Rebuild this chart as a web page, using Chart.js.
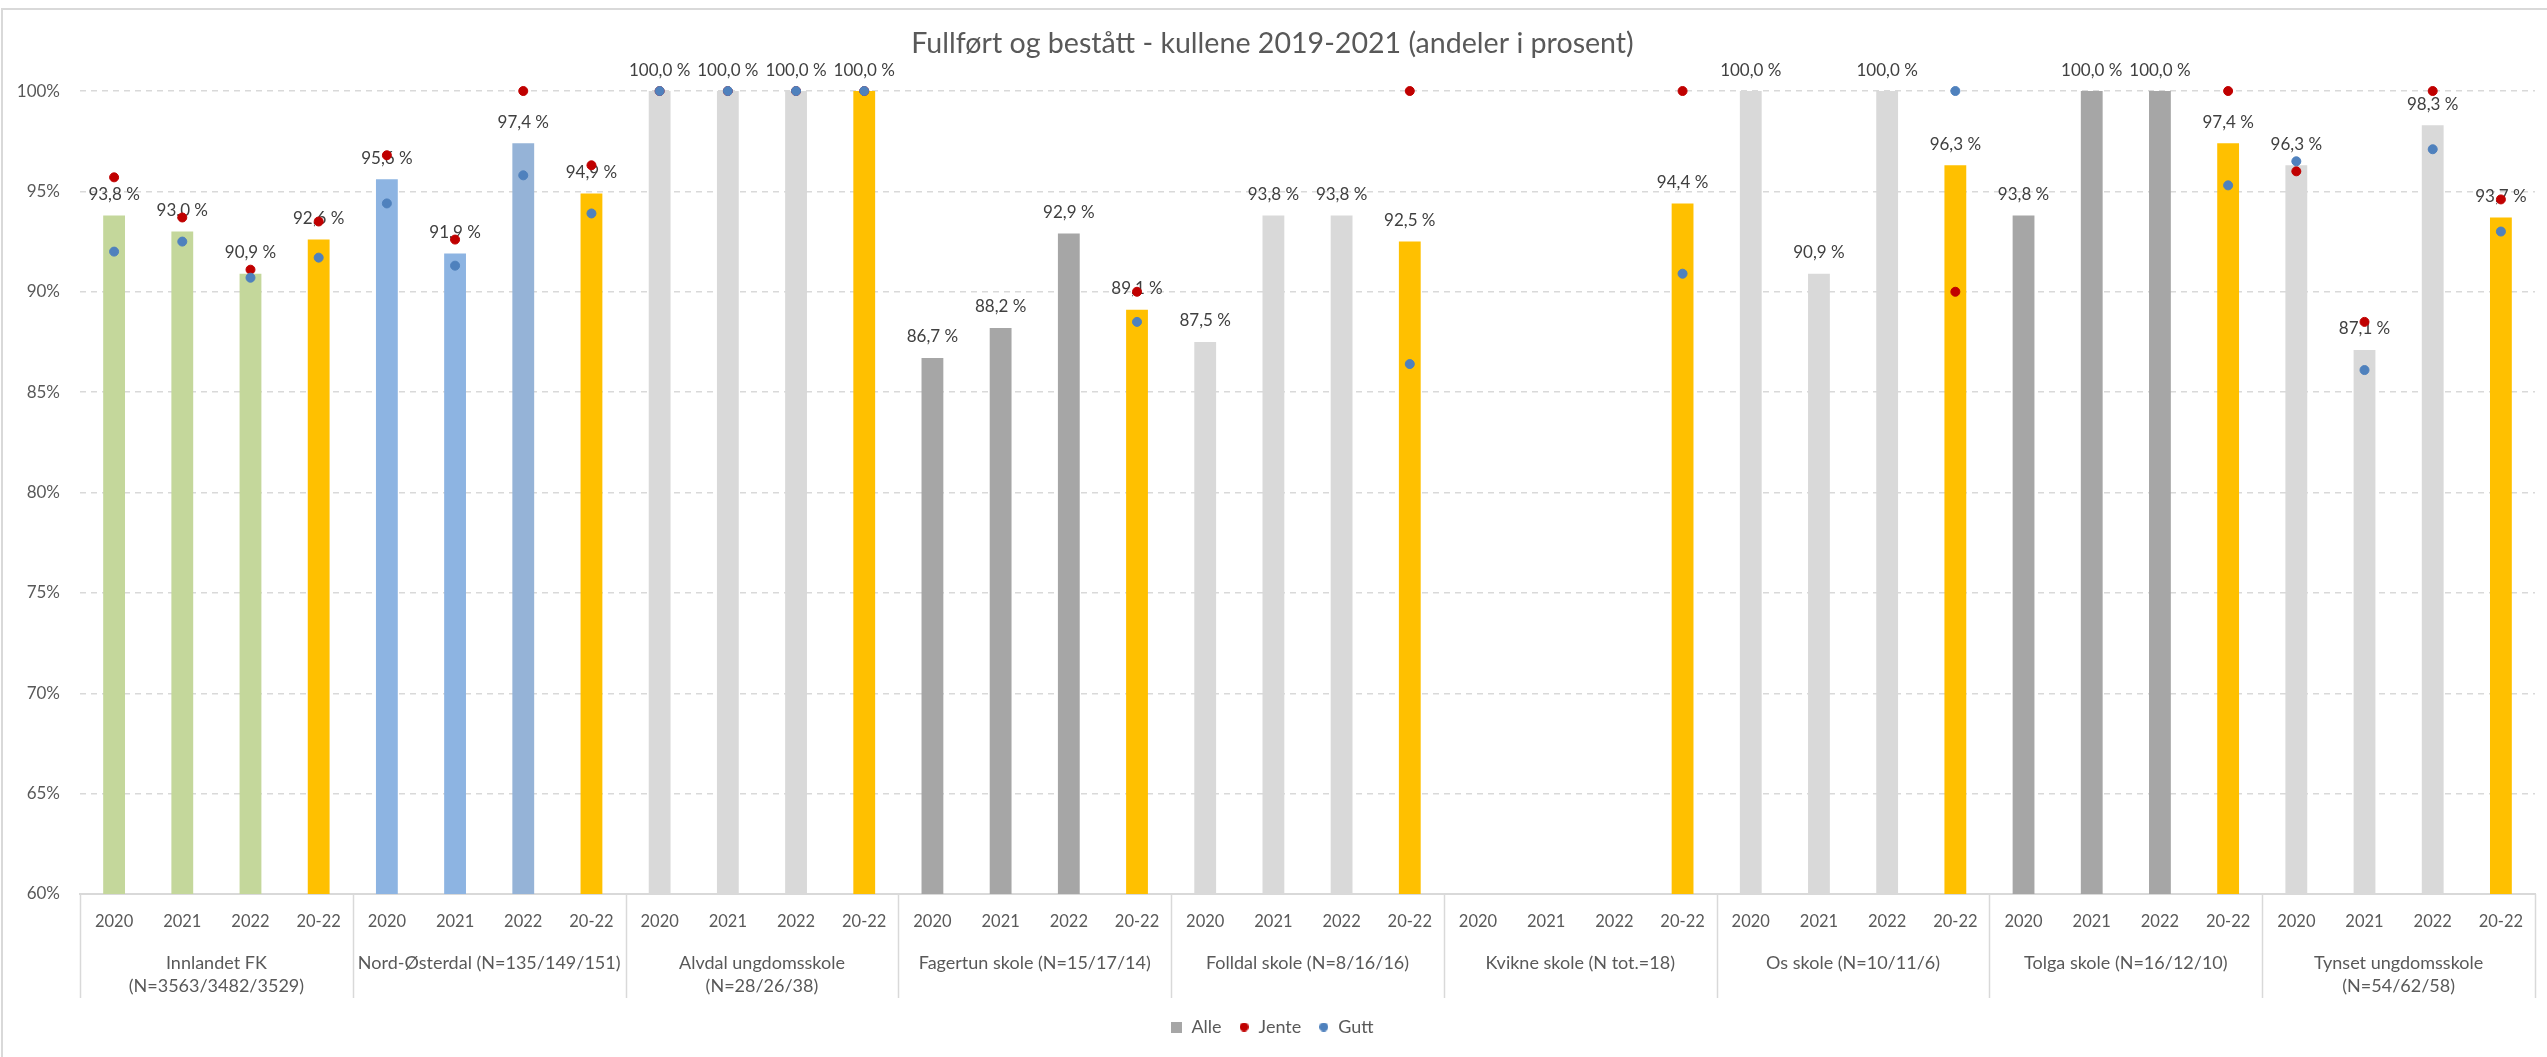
<!DOCTYPE html>
<html>
<head>
<meta charset="utf-8">
<script src="https://cdn.jsdelivr.net/npm/chart.js@4.4.0/dist/chart.umd.min.js"></script>
<style>
  html, body { margin: 0; padding: 0; background: #fff; }
</style>
</head>
<body>
<canvas id="chart" width="2547" height="1057"></canvas>
<script>
// --- data ---
const periods = ["2020", "2021", "2022", "20-22"];
const groups = [
  ["Innlandet FK", "(N=3563/3482/3529)"],
  "Nord-Østerdal (N=135/149/151)",
  ["Alvdal ungdomsskole", "(N=28/26/38)"],
  "Fagertun skole (N=15/17/14)",
  "Folldal skole (N=8/16/16)",
  "Kvikne skole (N tot.=18)",
  "Os skole (N=10/11/6)",
  "Tolga skole (N=16/12/10)",
  ["Tynset ungdomsskole", "(N=54/62/58)"],
];
const alle = [
  93.8, 93.0, 90.9, 92.6,
  95.6, 91.9, 97.4, 94.9,
  100, 100, 100, 100,
  86.7, 88.2, 92.9, 89.1,
  87.5, 93.8, 93.8, 92.5,
  null, null, null, 94.4,
  100, 90.9, 100, 96.3,
  93.8, 100, 100, 97.4,
  96.3, 87.1, 98.3, 93.7,
];
const jente = [
  95.7, 93.7, 91.1, 93.5,
  96.8, 92.6, 100, 96.3,
  100, 100, 100, 100,
  null, null, null, 90.0,
  null, null, null, 100,
  null, null, null, 100,
  null, null, null, 90.0,
  null, null, null, 100,
  96.0, 88.5, 100, 94.6,
];
const gutt = [
  92.0, 92.5, 90.7, 91.7,
  94.4, 91.3, 95.8, 93.9,
  100, 100, 100, 100,
  null, null, null, 88.5,
  null, null, null, 86.4,
  null, null, null, 90.9,
  null, null, null, 100,
  null, null, null, 95.3,
  96.5, 86.1, 97.1, 93.0,
];
const yTicks = [60, 65, 70, 75, 80, 85, 90, 95, 100];

// --- styles ---
const GREEN = "#C4D79B", BLUE = "#8DB4E2", BLUE2 = "#95B3D7", GOLD = "#FFC000";
const LIGHT = "#D9D9D9", DARK = "#A6A6A6";
const barColors = [
  GREEN, GREEN, GREEN, GOLD,
  BLUE, BLUE, BLUE2, GOLD,
  LIGHT, LIGHT, LIGHT, GOLD,
  DARK, DARK, DARK, GOLD,
  LIGHT, LIGHT, LIGHT, GOLD,
  DARK, DARK, DARK, GOLD,
  LIGHT, LIGHT, LIGHT, GOLD,
  DARK, DARK, DARK, GOLD,
  LIGHT, LIGHT, LIGHT, GOLD,
];
const RED = "#C00000", DOT_BLUE = "#4F81BD";
const TEXT = "#595959";
const FONT = 'Lato, "Liberation Sans", sans-serif';

Chart.defaults.font.family = FONT;
Chart.defaults.color = TEXT;

const labels = groups.flatMap(() => periods);
const fmt = (v) => v.toFixed(1).replace(".", ",") + " %";

const icon = (shape, color, size) => {
  const c = document.createElement("canvas");
  c.width = c.height = size;
  const g = c.getContext("2d");
  g.fillStyle = color;
  if (shape === "rect") {
    g.fillRect(0, 0, size, size);
  } else {
    g.beginPath();
    g.arc(size / 2, size / 2, size / 2, 0, Math.PI * 2);
    g.fill();
  }
  return c;
};

// value labels above the bars, drawn before the dots
const barLabels = {
  id: "barLabels",
  afterDatasetDraw(chart, args) {
    if (args.index !== 0) return;
    const ctx = chart.ctx;
    ctx.save();
    ctx.font = `17px ${FONT}`;
    ctx.fillStyle = "#404040";
    ctx.textAlign = "center";
    ctx.textBaseline = "middle";
    args.meta.data.forEach((bar, i) => {
      if (alle[i] == null) return;
      ctx.fillText(fmt(alle[i]), bar.x, bar.y - 21);
    });
    ctx.restore();
  },
};

// vertical separators between the school groups + outer frame
const groupLines = {
  id: "groupLines",
  beforeDraw(chart) {
    const ctx = chart.ctx;
    ctx.save();
    ctx.strokeStyle = LIGHT;
    ctx.lineWidth = 2;
    ctx.strokeRect(2, 9, chart.width + 20, chart.height + 20);
    ctx.restore();
  },
  afterDraw(chart) {
    const x = chart.scales.x;
    const ctx = chart.ctx;
    const top = chart.chartArea.bottom;
    ctx.save();
    ctx.strokeStyle = LIGHT;
    ctx.lineWidth = 1.5;
    for (let k = 0; k <= groups.length; k++) {
      const px = Math.round(x.getPixelForValue(k * periods.length - 0.5)) + 0.5;
      ctx.beginPath();
      ctx.moveTo(px, top);
      ctx.lineTo(px, 998);
      ctx.stroke();
    }
    ctx.restore();
  },
};

new Chart(document.getElementById("chart"), {
  type: "bar",
  data: {
    labels,
    datasets: [
      {
        label: "Alle",
        data: alle,
        backgroundColor: barColors,
        barPercentage: 0.32,
        categoryPercentage: 1,
        order: 3,
      },
      {
        type: "line",
        label: "Jente",
        data: jente,
        showLine: false,
        pointRadius: 4.5,
        pointBackgroundColor: RED,
        pointBorderColor: RED,
        pointBorderWidth: 1,
        clip: false,
        order: 2,
      },
      {
        type: "line",
        label: "Gutt",
        data: gutt,
        showLine: false,
        pointRadius: 4.5,
        pointBackgroundColor: DOT_BLUE,
        pointBorderColor: DOT_BLUE,
        pointBorderWidth: 1,
        clip: false,
        order: 1,
      },
    ],
  },
  options: {
    responsive: false,
    animation: false,
    layout: { padding: { left: 10, right: 12, top: 0, bottom: 11 } },
    plugins: {
      title: {
        display: true,
        text: "Fullført og bestått - kullene 2019-2021 (andeler i prosent)",
        color: TEXT,
        font: { size: 28.6, weight: "normal" },
        padding: { top: 27, bottom: 29.7 },
      },
      tooltip: { enabled: false },
      legend: {
        position: "bottom",
        labels: {
          color: TEXT,
          font: { size: 18 },
          usePointStyle: true,
          boxWidth: 11,
          boxHeight: 11,
          padding: 17,
          generateLabels: () => [
            { text: "Alle", pointStyle: icon("rect", DARK, 11), fillStyle: DARK, strokeStyle: DARK, lineWidth: 0, fontColor: TEXT, datasetIndex: 0 },
            { text: "Jente", pointStyle: icon("circle", RED, 9), fillStyle: RED, strokeStyle: RED, lineWidth: 0, fontColor: TEXT, datasetIndex: 1 },
            { text: "Gutt", pointStyle: icon("circle", DOT_BLUE, 9), fillStyle: DOT_BLUE, strokeStyle: DOT_BLUE, lineWidth: 0, fontColor: TEXT, datasetIndex: 2 },
          ],
        },
      },
    },
    scales: {
      y: {
        min: yTicks[0],
        max: yTicks[yTicks.length - 1],
        afterBuildTicks: (scale) => { scale.ticks = yTicks.map((v) => ({ value: v })); },
        afterFit: (scale) => { scale.width = 70; },
        ticks: {
          padding: 20,
          color: TEXT,
          font: { size: 17 },
          callback: (v) => v + "%",
        },
        grid: { color: LIGHT, lineWidth: 1.5, drawTicks: false },
        border: { display: false, dash: [6, 5] },
      },
      x: {
        weight: 0,
        afterFit: (scale) => { scale.height = 50; },
        ticks: {
          autoSkip: false,
          maxRotation: 0,
          padding: 18,
          color: TEXT,
          font: { size: 16.5 },
        },
        grid: { display: false, drawTicks: false },
        border: { display: true, color: LIGHT, width: 2 },
      },
      x2: {
        type: "category",
        position: "bottom",
        weight: 1,
        labels: groups,
        offset: true,
        afterFit: (scale) => { scale.height = 57; },
        ticks: {
          autoSkip: false,
          maxRotation: 0,
          padding: 7,
          color: TEXT,
          font: { size: 18, lineHeight: 1.3 },
        },
        grid: { display: false, drawTicks: false },
        border: { display: false },
      },
    },
  },
  plugins: [barLabels, groupLines],
});
</script>
</body>
</html>
